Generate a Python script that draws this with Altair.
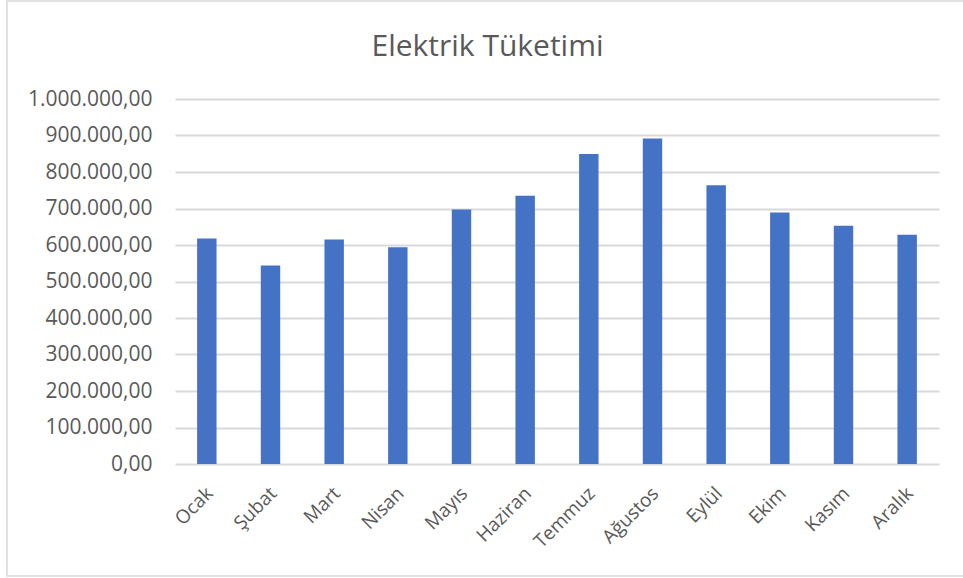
import altair as alt
import pandas as pd

title_text = "Elektrik Tüketimi"
months = ["Ocak", "Şubat", "Mart", "Nisan", "Mayıs", "Haziran",
          "Temmuz", "Ağustos", "Eylül", "Ekim", "Kasım", "Aralık"]
values = [618000, 544000, 615000, 594000, 697000, 735000,
          849000, 892000, 764000, 689000, 653000, 628000]
y_ticks = [0, 100000, 200000, 300000, 400000, 500000,
           600000, 700000, 800000, 900000, 1000000]

df = pd.DataFrame({"Ay": months, "Tüketim": values})

FONT = "Open Sans"
GREY = "#595959"

label_expr = ("replace(replace(replace(format(datum.value, ',.2f'), regexp(',', 'g'), 'X'), "
              "regexp('\\\\.', 'g'), ','), regexp('X', 'g'), '.')")

bars = alt.Chart(df).mark_bar(color="#4472C4").encode(
    x=alt.X("Ay:N", sort=months, title=None,
            scale=alt.Scale(paddingInner=0.695, paddingOuter=0.3475),
            axis=alt.Axis(labelAngle=-45, labelAlign="right", labelBaseline="middle",
                          labelPadding=26, labelOffset=3, labelFont=FONT, labelFontSize=19,
                          labelColor=GREY, domain=False, ticks=False, grid=False)),
    y=alt.Y("Tüketim:Q", title=None,
            scale=alt.Scale(domain=[0, 1000000], nice=False),
            axis=alt.Axis(values=y_ticks, labelExpr=label_expr, labelFont=FONT,
                          labelFontSize=21, labelColor=GREY, labelPadding=23,
                          domain=False, ticks=False, grid=True,
                          gridColor="#D9D9D9", gridWidth=1.8)),
)

one = pd.DataFrame({"t": [title_text]})

border = alt.Chart(one).mark_rect(
    fill=None, stroke="#D9D9D9", strokeWidth=1.5
).encode(x=alt.value(-168), x2=alt.value(790), y=alt.value(-98), y2=alt.value(477))

title = alt.Chart(one).mark_text(
    font=FONT, fontSize=30, color=GREY, align="center", baseline="alphabetic"
).encode(text="t:N", x=alt.value(312.5), y=alt.value(-43))

chart = alt.layer(bars, border, title).properties(
    width=764, height=365,
    autosize=alt.AutoSizeParams(type="none"),
    padding={"left": 175, "top": 99, "right": 24, "bottom": 114},
).configure_view(stroke=None)

chart.save("out.html", embed_options={"renderer": "svg", "actions": False})
